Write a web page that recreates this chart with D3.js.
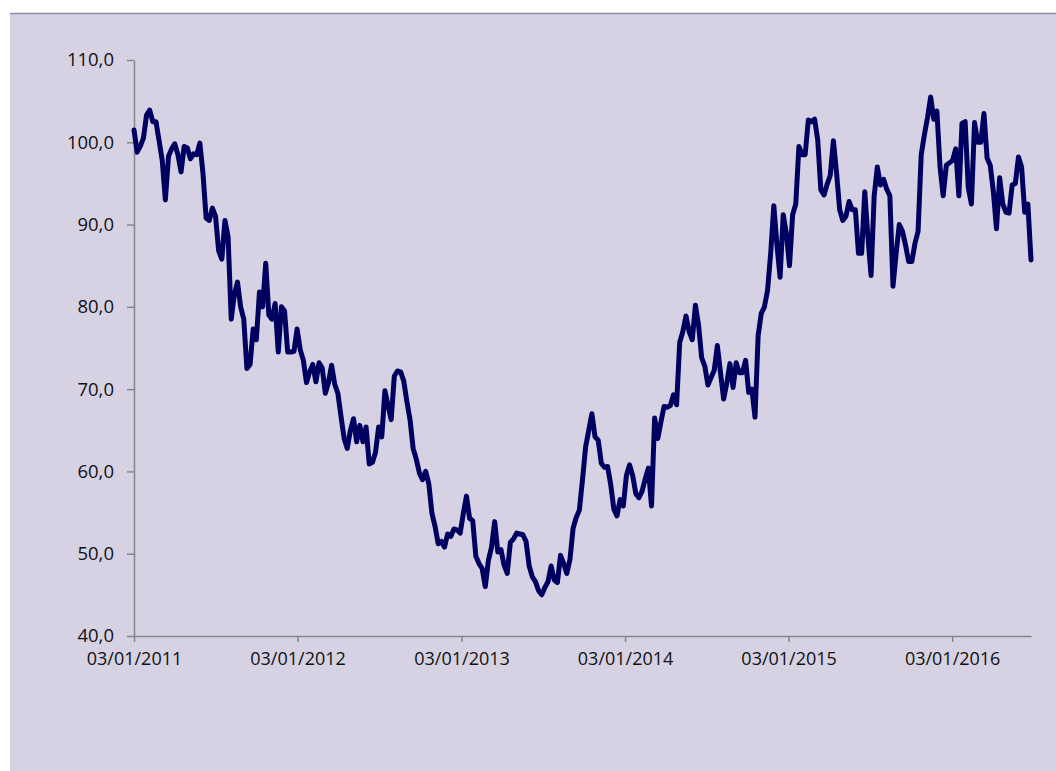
<!DOCTYPE html>
<html>
<head>
<meta charset="utf-8">
<script src="https://cdn.jsdelivr.net/npm/d3@7"></script>
<style>
  html, body { margin: 0; padding: 0; background: #ffffff; }
  svg { display: block; }
</style>
</head>
<body>
<svg id="chart" width="1056" height="771"></svg>
<script>
// ---- data ----
const startDate = "2011-01-03";   // first observation
const stepDays = 7;               // weekly observations
const values = [
  101.5, 98.8, 99.5, 100.5, 103.3, 103.9, 102.5, 102.5, 100.2, 97.8,
  93.0, 98.3, 99.2, 99.8, 98.5, 96.4, 99.5, 99.3, 98.0, 98.6,
  98.5, 99.9, 96.2, 90.8, 90.5, 92.0, 91.0, 86.8, 85.8, 90.5,
  88.5, 78.5, 81.5, 83.0, 80.0, 78.5, 72.5, 73.0, 77.3, 76.0,
  81.8, 80.0, 85.3, 79.0, 78.5, 80.4, 74.5, 80.0, 79.5, 74.5,
  74.5, 74.6, 77.3, 74.8, 73.5, 70.8, 72.1, 73.0, 70.9, 73.2,
  72.6, 69.5, 70.8, 72.9, 70.6, 69.5, 66.7, 64.0, 62.8, 65.0,
  66.4, 63.6, 65.6, 63.6, 65.4, 60.9, 61.1, 62.3, 65.4, 64.2,
  69.8, 68.0, 66.3, 71.6, 72.2, 72.1, 71.0, 68.5, 66.3, 62.8,
  61.5, 59.8, 59.0, 60.0, 58.5, 54.9, 53.3, 51.2, 51.5, 50.8,
  52.4, 52.1, 53.0, 52.9, 52.5, 54.9, 57.0, 54.3, 54.0, 49.7,
  48.8, 48.2, 46.0, 49.2, 50.8, 53.9, 50.2, 50.5, 48.6, 47.6,
  51.4, 51.8, 52.5, 52.4, 52.3, 51.5, 48.5, 47.2, 46.6, 45.5,
  45.0, 45.9, 46.6, 48.5, 46.8, 46.5, 49.8, 48.8, 47.6, 49.3,
  53.1, 54.4, 55.3, 59.0, 63.0, 65.0, 67.0, 64.2, 63.8, 61.0,
  60.5, 60.6, 58.4, 55.4, 54.6, 56.6, 55.8, 59.5, 60.8, 59.5,
  57.3, 56.8, 57.6, 59.1, 60.4, 55.8, 66.5, 64.0, 66.0, 67.9,
  67.8, 68.0, 69.3, 68.1, 75.7, 77.0, 78.9, 77.0, 76.0, 80.2,
  77.8, 73.8, 72.8, 70.5, 71.4, 72.3, 75.3, 72.0, 68.8, 70.7,
  73.1, 70.2, 73.2, 72.0, 72.0, 73.5, 69.6, 70.0, 66.6, 76.5,
  79.2, 80.0, 82.0, 86.5, 92.3, 87.5, 83.6, 91.2, 88.9, 85.0,
  91.2, 92.5, 99.5, 98.5, 98.5, 102.7, 102.5, 102.8, 100.3, 94.2,
  93.6, 94.9, 96.0, 100.2, 96.3, 91.8, 90.5, 91.0, 92.8, 91.8,
  91.8, 86.5, 86.5, 94.0, 88.5, 83.8, 93.5, 97.0, 94.8, 95.5,
  94.3, 93.5, 82.5, 86.5, 90.0, 89.2, 87.5, 85.5, 85.5, 87.7,
  89.2, 98.5, 100.9, 103.0, 105.5, 102.8, 103.8, 97.0, 93.5, 97.2,
  97.5, 97.8, 99.2, 93.5, 102.3, 102.5, 94.5, 92.5, 102.4, 100.0,
  100.0, 103.5, 98.1, 97.2, 94.0, 89.5, 95.7, 92.5, 91.5, 91.4,
  94.8, 95.0, 98.2, 97.0, 91.5, 92.5, 85.7
];
const xTickDates = ["2011-01-03", "2012-01-03", "2013-01-03", "2014-01-03", "2015-01-03", "2016-01-03"];
const yTicks = [40, 50, 60, 70, 80, 90, 100, 110];

// ---- build ----
(function () {
  const parse = d3.utcParse("%Y-%m-%d");
  const t0 = parse(startDate);
  const data = values.map((v, i) => ({ date: d3.utcDay.offset(t0, i * stepDays), value: v }));

  const svg = d3.select("#chart");
  const W = 1056, H = 771;

  // panel background
  svg.append("rect").attr("x", 10).attr("y", 13).attr("width", W - 10).attr("height", H - 13)
    .attr("fill", "#d6d2e3");
  svg.append("line").attr("x1", 10).attr("x2", W).attr("y1", 13.5).attr("y2", 13.5)
    .attr("stroke", "#8f8ba3").attr("stroke-width", 1.5);

  const pLeft = 134, pRight = 1031, pTop = 60, pBottom = 636;
  const x = d3.scaleUtc()
    .domain([t0, data[data.length - 1].date])
    .range([pLeft, pRight]);
  const y = d3.scaleLinear().domain([40, 110]).range([pBottom, pTop]);

  const fmtY = v => d3.format(".1f")(v).replace(".", ",");
  const fmtX = d3.utcFormat("%d/%m/%Y");

  const font = "'Open Sans', 'Noto Sans', sans-serif";

  // y axis
  const yAxis = svg.append("g").attr("transform", `translate(${pLeft},0)`)
    .call(d3.axisLeft(y).tickValues(yTicks).tickSize(7).tickSizeOuter(0).tickPadding(13).tickFormat(fmtY));
  yAxis.select(".domain").attr("stroke", "#868686").attr("stroke-width", 1.5);
  yAxis.selectAll(".tick line").attr("stroke", "#868686").attr("stroke-width", 1.5);
  yAxis.selectAll(".tick text").attr("fill", "#111").style("font-family", font).style("font-size", "18.5px");

  // x axis
  const xAxis = svg.append("g").attr("transform", `translate(0,${pBottom})`)
    .call(d3.axisBottom(x).tickValues(xTickDates.map(parse)).tickSize(6).tickSizeOuter(0).tickPadding(10).tickFormat(fmtX));
  xAxis.select(".domain").attr("stroke", "#868686").attr("stroke-width", 1.5);
  xAxis.selectAll(".tick line").attr("stroke", "#868686").attr("stroke-width", 1.5);
  xAxis.selectAll(".tick text").attr("fill", "#111").style("font-family", font).style("font-size", "18px");

  // line
  svg.append("path").datum(data)
    .attr("fill", "none")
    .attr("stroke", "#000060")
    .attr("stroke-width", 5)
    .attr("stroke-linejoin", "round")
    .attr("stroke-linecap", "round")
    .attr("d", d3.line().x(d => x(d.date)).y(d => y(d.value)));
})();
</script>
</body>
</html>
